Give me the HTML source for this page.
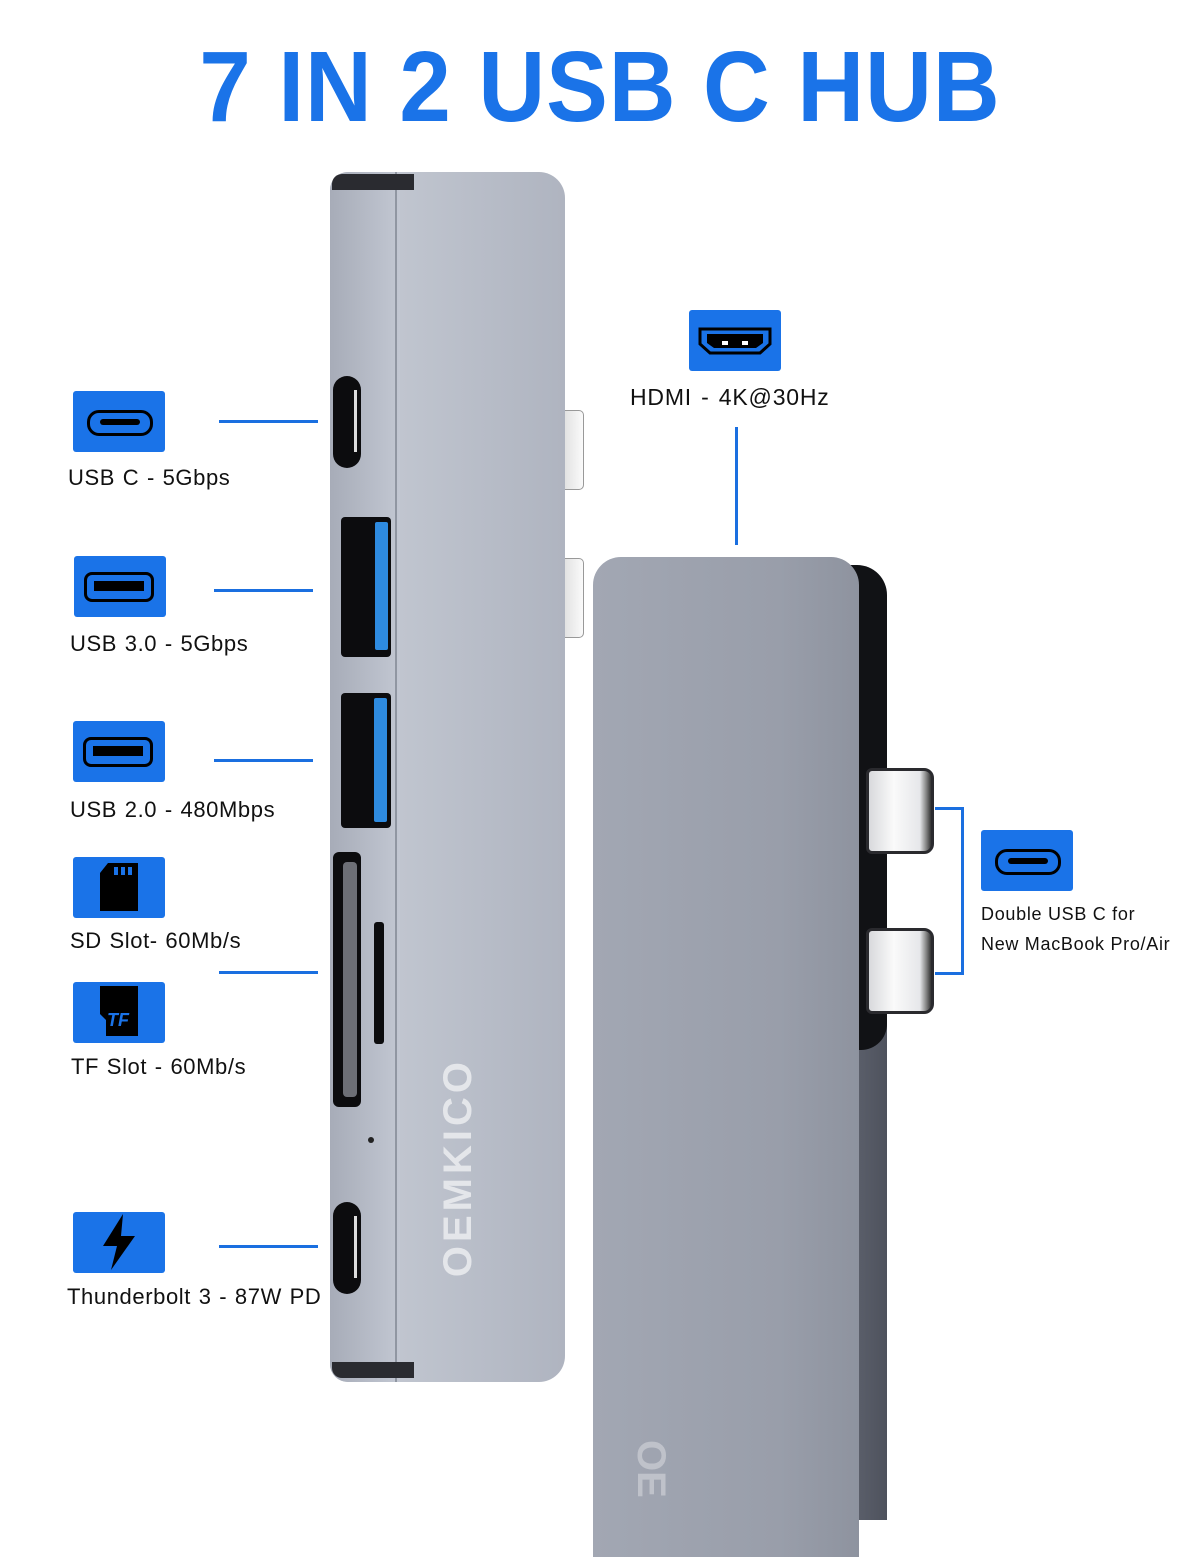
<!DOCTYPE html>
<html><head><meta charset="utf-8"><style>
body{margin:0;width:1200px;height:1500px;background:#fff;position:relative;overflow:hidden;font-family:"Liberation Sans",sans-serif}
.a{position:absolute}
.box{position:absolute;background:#1a73e8;border-radius:3px;width:92px;height:61px}
.lbl{position:absolute;font-size:22px;color:#111;white-space:nowrap;letter-spacing:0.6px;word-spacing:1px}
.ln{position:absolute;background:#1a6fe0;height:3px}
.blk{position:absolute;background:#0c0c0e;border-radius:8px}
.plug{position:absolute;width:62px;height:80px;background:linear-gradient(90deg,#d8d9dc,#fafafa 40%,#e6e7ea 82%,#888 92%,#333);border:3px solid #2a2a2e;border-radius:6px 10px 10px 6px}
</style></head><body>
<div class="a" style="left:0;width:1200px;top:30px;text-align:center;font-size:100px;font-weight:bold;color:#1a73e8;transform:scaleX(0.925);letter-spacing:1px">7 IN 2 USB C HUB</div>

<!-- right device -->
<div class="a" style="left:820px;top:1000px;width:67px;height:520px;background:linear-gradient(90deg,#6a6e7a,#4e525d)"></div>
<div class="a" style="left:820px;top:565px;width:67px;height:485px;background:#111215;border-radius:0 30px 26px 0"></div>
<div class="a" style="left:593px;top:557px;width:266px;height:1000px;background:linear-gradient(90deg,#a2a7b3,#999eaa 70%,#8e939f);border-radius:28px 28px 0 0"></div>
<div class="plug" style="left:866px;top:768px"></div>
<div class="plug" style="left:866px;top:928px"></div>
<div class="a" style="left:628px;top:1440px;font-size:40px;font-weight:bold;color:#bfc2ca;writing-mode:vertical-rl">OE</div>

<!-- left device plugs -->
<div class="a" style="left:560px;top:410px;width:22px;height:78px;background:linear-gradient(90deg,#ddd,#fafafa);border:1px solid #999;border-radius:0 5px 5px 0"></div>
<div class="a" style="left:560px;top:558px;width:22px;height:78px;background:linear-gradient(90deg,#ddd,#fafafa);border:1px solid #999;border-radius:0 5px 5px 0"></div>
<!-- left device -->
<div class="a" style="left:330px;top:172px;width:235px;height:1210px;background:linear-gradient(90deg,#b3b8c4,#c0c5cf 30%,#afb4c0);border-radius:18px 26px 26px 18px"></div>
<div class="a" style="left:330px;top:172px;width:70px;height:1210px;background:linear-gradient(90deg,#a7acb8,#c2c7d2);border-radius:18px 0 0 18px"></div>
<div class="a" style="left:395px;top:172px;width:2px;height:1210px;background:#9096a2"></div>
<div class="a" style="left:332px;top:174px;width:82px;height:16px;background:#2a2b30;border-radius:10px 0 0 0"></div>
<div class="a" style="left:332px;top:1362px;width:82px;height:16px;background:#2a2b30;border-radius:0 0 0 10px"></div>
<!-- ports -->
<div class="blk" style="left:333px;top:376px;width:28px;height:92px;border-radius:14px"></div>
<div class="a" style="left:354px;top:390px;width:3px;height:62px;background:#ddd"></div>
<div class="blk" style="left:341px;top:517px;width:50px;height:140px;border-radius:4px"></div>
<div class="a" style="left:375px;top:522px;width:13px;height:128px;background:#2e8be0;border-radius:2px"></div>
<div class="blk" style="left:341px;top:693px;width:50px;height:135px;border-radius:4px"></div>
<div class="a" style="left:374px;top:698px;width:13px;height:124px;background:#2e8be0;border-radius:2px"></div>
<div class="blk" style="left:333px;top:852px;width:28px;height:255px;border-radius:6px"></div>
<div class="a" style="left:343px;top:862px;width:14px;height:235px;background:#6d6f76;border-radius:4px"></div>
<div class="a" style="left:374px;top:922px;width:10px;height:122px;background:#0c0c0e;border-radius:3px"></div>
<div class="a" style="left:368px;top:1137px;width:6px;height:6px;background:#222;border-radius:50%"></div>
<div class="blk" style="left:333px;top:1202px;width:28px;height:92px;border-radius:14px"></div>
<div class="a" style="left:354px;top:1216px;width:3px;height:62px;background:#ddd"></div>
<div class="a" style="left:436px;top:1058px;font-size:40px;font-weight:bold;color:#e4e6ea;writing-mode:vertical-rl;transform:rotate(180deg);letter-spacing:4px">OEMKICO</div>

<!-- left labels -->
<div class="box" style="left:73px;top:391px"><div class="a" style="left:14px;top:19px;width:60px;height:20px;border:3px solid #000;border-radius:12px"></div><div class="a" style="left:27px;top:28px;width:40px;height:6px;background:#000;border-radius:3px"></div></div>
<div class="lbl" style="left:68px;top:465px">USB C - 5Gbps</div>
<div class="ln" style="left:219px;top:420px;width:99px"></div>

<div class="box" style="left:74px;top:556px"><div class="a" style="left:10px;top:16px;width:64px;height:24px;border:3px solid #000;border-radius:8px"></div><div class="a" style="left:20px;top:25px;width:50px;height:10px;background:#000"></div></div>
<div class="lbl" style="left:70px;top:631px">USB 3.0 - 5Gbps</div>
<div class="ln" style="left:214px;top:589px;width:99px"></div>

<div class="box" style="left:73px;top:721px"><div class="a" style="left:10px;top:16px;width:64px;height:24px;border:3px solid #000;border-radius:8px"></div><div class="a" style="left:20px;top:25px;width:50px;height:10px;background:#000"></div></div>
<div class="lbl" style="left:70px;top:797px">USB 2.0 - 480Mbps</div>
<div class="ln" style="left:214px;top:759px;width:99px"></div>

<div class="box" style="left:73px;top:857px"><svg class="a" style="left:25px;top:6px" width="42" height="50"><path d="M10 0H40V48H2V10Z" fill="#000"/><rect x="16" y="4" width="4" height="8" fill="#1a73e8"/><rect x="23" y="4" width="4" height="8" fill="#1a73e8"/><rect x="30" y="4" width="4" height="8" fill="#1a73e8"/></svg></div>
<div class="lbl" style="left:70px;top:928px">SD Slot- 60Mb/s</div>
<div class="ln" style="left:219px;top:971px;width:99px"></div>

<div class="box" style="left:73px;top:982px"><svg class="a" style="left:25px;top:4px" width="42" height="52"><path d="M2 0H40V50H8V34L2 28Z" fill="#000"/><text x="9" y="40" font-family="Liberation Sans" font-size="18" font-weight="bold" font-style="italic" fill="#1a73e8">TF</text></svg></div>
<div class="lbl" style="left:71px;top:1054px">TF Slot - 60Mb/s</div>

<div class="box" style="left:73px;top:1212px"><svg class="a" style="left:28px;top:2px" width="36" height="58"><path d="M22 0L2 32H16L10 56L34 22H20Z" fill="#000"/></svg></div>
<div class="lbl" style="left:67px;top:1284px">Thunderbolt 3 - 87W PD</div>
<div class="ln" style="left:219px;top:1245px;width:99px"></div>

<!-- HDMI -->
<div class="box" style="left:689px;top:310px"><svg class="a" style="left:8px;top:16px" width="76" height="30"><path d="M3 3H73V18L63 27H13L3 18Z" fill="none" stroke="#000" stroke-width="3"/><path d="M10 8H66V17L59 22H17L10 17Z" fill="#000"/><rect x="25" y="15" width="6" height="4" fill="#fff"/><rect x="45" y="15" width="6" height="4" fill="#fff"/></svg></div>
<div class="lbl" style="left:630px;top:384px;font-size:23px;letter-spacing:0.8px;word-spacing:2px">HDMI - 4K@30Hz</div>
<div class="a" style="left:735px;top:427px;width:3px;height:118px;background:#1a6fe0"></div>

<!-- double usb c -->
<div class="a" style="left:935px;top:807px;width:26px;height:162px;border:3px solid #1a6fe0;border-left:none"></div>
<div class="box" style="left:981px;top:830px"><div class="a" style="left:14px;top:19px;width:60px;height:20px;border:3px solid #000;border-radius:12px"></div><div class="a" style="left:27px;top:28px;width:40px;height:6px;background:#000;border-radius:3px"></div></div>
<div class="lbl" style="left:981px;top:899px;font-size:18px;line-height:30px;letter-spacing:0.7px;word-spacing:0px">Double USB C for<br>New MacBook Pro/Air</div>
</body></html>
